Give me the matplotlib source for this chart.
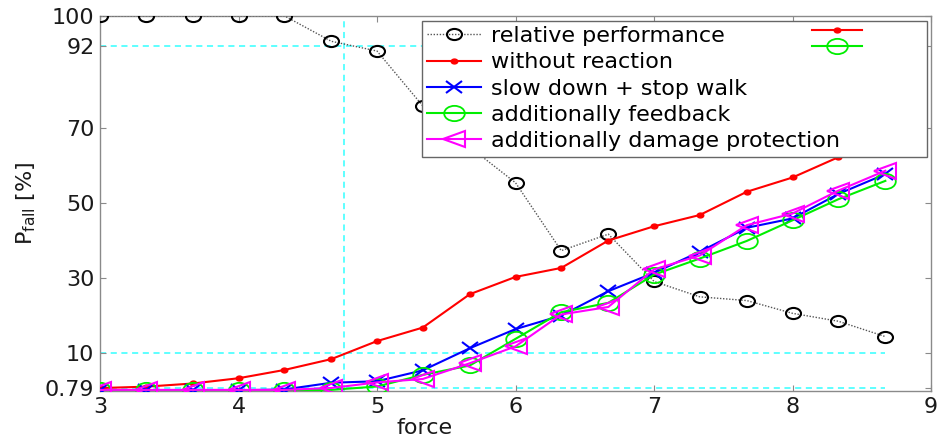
import matplotlib
matplotlib.use("Agg")
import matplotlib.pyplot as plt
from matplotlib.markers import MarkerStyle
from matplotlib.transforms import Affine2D

# ---- data -------------------------------------------------------------
force = [3.00, 3.33, 3.67, 4.00, 4.33, 4.67, 5.00, 5.33, 5.67,
         6.00, 6.33, 6.67, 7.00, 7.33, 7.67, 8.00, 8.33, 8.67]

relative_performance = [100, 100, 100, 100, 100, 93.2, 90.6, 76.0, 65.0,
                        55.5, 37.4, 41.8, 29.2, 25.1, 24.1, 20.7, 18.6, 14.5]
without_reaction = [0.79, 1.15, 2.0, 3.4, 5.6, 8.5, 13.3, 16.9, 25.8,
                    30.4, 32.8, 40.1, 43.9, 46.9, 53.1, 56.9, 62.3, 66.0]
slow_down_stop = [0.2, 0.2, 0.2, 0.2, 0.4, 2.2, 2.6, 5.5, 11.4,
                  16.5, 20.1, 26.6, 31.5, 37.1, 43.5, 46.0, 52.5, 57.8]
add_feedback = [0.2, 0.2, 0.2, 0.2, 0.2, 0.3, 1.2, 4.3, 6.8,
                13.9, 21.0, 23.5, 31.0, 35.3, 40.0, 45.5, 51.1, 56.0]
add_damage_protection = [0.3, 0.3, 0.3, 0.3, 0.3, 0.8, 2.3, 3.2, 7.4,
                         11.9, 20.4, 22.4, 32.4, 36.1, 44.2, 47.3, 53.4, 58.7]

series_labels = ["relative performance", "without reaction",
                 "slow down + stop walk", "additionally feedback",
                 "additionally damage protection"]

# reference levels: baseline fall rate, 10 % fall rate, performance at that force
ref_levels = [0.79, 10, 92]
force_mark = 4.76

xticks = [3, 4, 5, 6, 7, 8, 9]
yticks = [0.79, 10, 30, 50, 70, 92, 100]
ytick_labels = ["0.79", "10", "30", "50", "70", "92", "100"]

# ---- style ------------------------------------------------------------
plt.rcParams["font.family"] = ["DejaVu Sans"]
plt.rcParams["mathtext.fontset"] = "dejavusans"
FS = 16
text_col = "#1a1a1a"
frame_col = "#8a8a8a"

# slightly wide markers
wide = Affine2D().scale(1.35, 1.0)
m_circle = MarkerStyle("o", fillstyle="none", transform=wide)
m_x = MarkerStyle("x", transform=wide)
m_tri = MarkerStyle("<", fillstyle="none", transform=wide)
m_dot = MarkerStyle(".", transform=wide)

fig = plt.figure(figsize=(9.38, 4.38), dpi=100)
ax = fig.add_axes([0.1066, 0.1073, 0.8860, 0.8567])

# cyan guide lines
for lvl in ref_levels:
    ax.plot([force[0], force[-1]], [lvl, lvl], color="#33ffff", lw=1.1,
            ls=(0, (4, 3)), zorder=1)
ax.plot([force_mark, force_mark], [0, 100], color="#33ffff", lw=1.1,
        ls=(0, (4, 3)), zorder=1)

h_rel, = ax.plot(force, relative_performance, ls=(0, (1, 1.2)), color="#555555",
                 lw=1.0, marker=m_circle, ms=8, mec="black", mew=1.5, zorder=3)
h_red, = ax.plot(force, without_reaction, color="#ff0000", lw=1.5,
                 marker=m_dot, ms=7, mec="#ff0000", mfc="#ff0000", zorder=4)
h_blue, = ax.plot(force, slow_down_stop, color="#0000ff", lw=1.5,
                  marker=m_x, ms=9, mew=1.5, zorder=5)
h_green, = ax.plot(force, add_feedback, color="#00ee00", lw=1.5,
                   marker=m_circle, ms=11, mew=1.3, zorder=6)
h_mag, = ax.plot(force, add_damage_protection, color="#ff00ff", lw=1.5,
                 marker=m_tri, ms=12, mew=1.5, zorder=7)

ax.set_xlim(3, 9)
ax.set_ylim(0, 100)
ax.set_xticks(xticks)
ax.set_yticks(yticks)
ax.set_yticklabels(ytick_labels)

for s in ax.spines.values():
    s.set_color(frame_col)
    s.set_linewidth(1.0)
ax.tick_params(direction="in", length=4, width=0.8, color=frame_col,
               top=True, right=True, labelsize=FS, labelcolor=text_col, pad=4)

ax.set_xlabel("force", fontsize=FS, color=text_col)
ax.xaxis.set_label_coords(0.39, -0.072)
ax.set_ylabel(r"P$_{\mathrm{fall}}$ [%]", fontsize=FS, color=text_col)
ax.yaxis.set_label_coords(-0.074, 0.5)

leg = ax.legend([h_rel, h_red, h_blue, h_green, h_mag], series_labels,
                loc="upper left", bbox_to_anchor=(0.387, 0.623, 0.608, 0.364),
                mode="expand", fontsize=FS, frameon=True, fancybox=False,
                framealpha=1, edgecolor="#666666", borderaxespad=0,
                borderpad=0.25, labelspacing=0.28, handlelength=2.4,
                handletextpad=0.45)
leg.get_frame().set_linewidth(1.0)
leg.set_zorder(10)
ax.add_artist(leg)

# extra unlabeled entries at the top right of the legend box
extra = ax.legend([h_red, h_green], ["", ""], loc="upper left",
                  bbox_to_anchor=(0.857, 0.978), fontsize=9, frameon=False,
                  borderaxespad=0, borderpad=0, labelspacing=0.25,
                  handlelength=4.0, handletextpad=0)
extra.set_zorder(11)

fig.savefig("out.png", dpi=100)
